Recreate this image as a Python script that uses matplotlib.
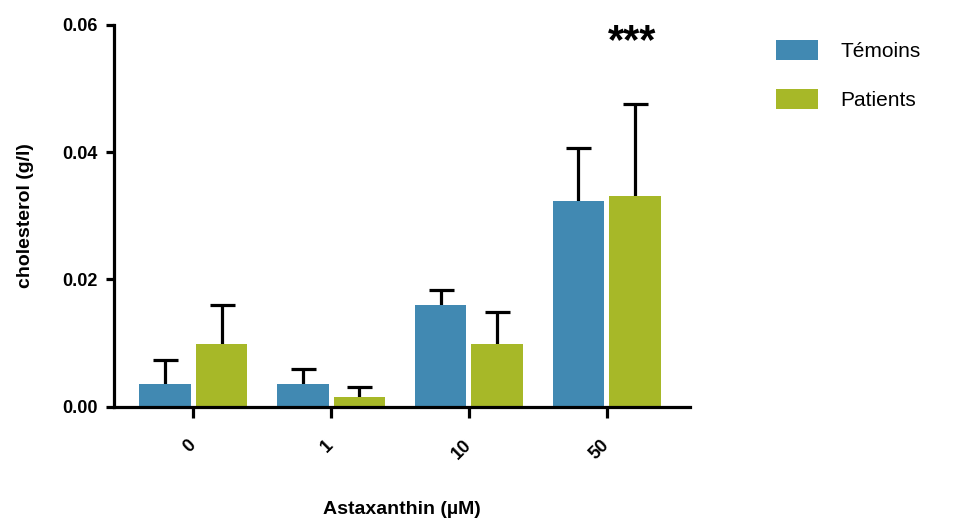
import matplotlib
matplotlib.use("Agg")
import matplotlib.pyplot as plt
import numpy as np

categories = ["0", "1", "10", "50"]
temoins = [0.0035, 0.0036, 0.0160, 0.0323]
temoins_err = [0.0038, 0.0023, 0.0024, 0.0083]
patients = [0.0098, 0.0015, 0.0098, 0.0331]
patients_err = [0.0062, 0.0016, 0.0050, 0.0145]
yticks = [0.00, 0.02, 0.04, 0.06]
series_names = ["Témoins", "Patients"]
significance = "***"

blue = "#4189B2"
green = "#A7B828"

plt.rcParams['font.family'] = ['Liberation Sans', 'DejaVu Sans']

fig = plt.figure(figsize=(9.54, 5.20), dpi=100)
ax = fig.add_axes([114/954, 1-406.7/520, (690-114)/954, (406.7-24.7)/520])

x = np.arange(len(categories))
w = 0.375
off = 0.205
lw = 2.3
ax.bar(x - off, temoins, w, color=blue, label=series_names[0], zorder=2)
ax.bar(x + off, patients, w, color=green, label=series_names[1], zorder=2)
for xs, vals, errs in [(x - off, temoins, temoins_err), (x + off, patients, patients_err)]:
    _, caps, _ = ax.errorbar(xs, vals, yerr=[np.zeros(len(vals)), errs], fmt='none',
                             ecolor='black', elinewidth=lw, capsize=9, capthick=lw, zorder=1)
    caps[0].set_visible(False)

ax.set_xlim(-0.576, 3.605)
ax.set_ylim(0, 0.06)
ax.set_yticks(yticks)
ax.set_yticklabels([f"{t:.2f}" for t in yticks], fontsize=13, fontweight='bold')
ax.set_xticks(x)
ax.set_xticklabels(categories, fontsize=13, fontweight='bold', rotation=45,
                   ha='right', va='center', rotation_mode='anchor')
for s in ['top', 'right']:
    ax.spines[s].set_visible(False)
for s in ['left', 'bottom']:
    ax.spines[s].set_linewidth(2.3)
ax.tick_params(axis='y', length=6, width=2.3, pad=6)
ax.tick_params(axis='x', length=8, width=2.3, pad=18)

ax.set_ylabel("cholesterol (g/l)", fontsize=14, fontweight='bold', labelpad=20)
ax.set_xlabel("Astaxanthin (µM)", fontsize=14, fontweight='bold', labelpad=27)

t = ax.text(3 + off - 0.02, 0.0572, significance, ha='center', va='center',
            fontsize=30, fontweight='bold', clip_on=False)

fig.legend(loc='upper left', bbox_to_anchor=(776/954, 1-40/520), frameon=False,
           fontsize=15, handlelength=2.0, handleheight=1.1, handletextpad=1.1,
           labelspacing=1.35, borderpad=0, borderaxespad=0)

fig.savefig("out.png", dpi=100)
